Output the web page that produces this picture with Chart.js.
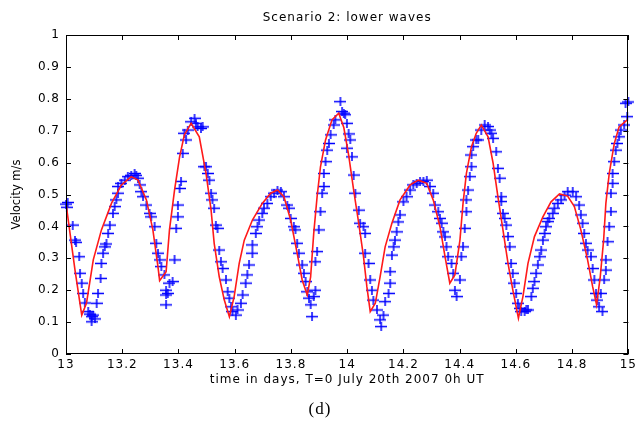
<!DOCTYPE html>
<html>
<head>
<meta charset="utf-8">
<script src="https://cdn.jsdelivr.net/npm/chart.js@4.4.1/dist/chart.umd.min.js"></script>
<style>
  html, body { margin: 0; padding: 0; background: #fff; }
  #wrap { position: relative; width: 640px; height: 430px; }
  canvas { display: block; }
</style>
</head>
<body>
<div id="wrap"><canvas id="c" width="640" height="430"></canvas></div>
<script>
// ---- data ----
const chartTitle = 'Scenario 2: lower waves';
const xTitle = 'time in days, T=0 July 20th 2007 0h UT';
const yTitle = 'Velocity m/s';
const caption = '(d)';

const xTicks = [13, 13.2, 13.4, 13.6, 13.8, 14, 14.2, 14.4, 14.6, 14.8, 15];
const xTickLabels = ['13', '13.2', '13.4', '13.6', '13.8', '14', '14.2', '14.4', '14.6', '14.8', '15'];
const yTicks = [0, 0.1, 0.2, 0.3, 0.4, 0.5, 0.6, 0.7, 0.8, 0.9, 1];
const yTickLabels = ['0', '0.1', '0.2', '0.3', '0.4', '0.5', '0.6', '0.7', '0.8', '0.9', '1'];

// model (red line)
const modelT = [13.000, 13.032, 13.056, 13.073, 13.097, 13.126, 13.162, 13.197, 13.232, 13.256, 13.286, 13.309, 13.327, 13.333, 13.356, 13.368, 13.386, 13.404, 13.421, 13.445, 13.474, 13.498, 13.516, 13.527, 13.545, 13.563, 13.581, 13.598, 13.616, 13.634, 13.663, 13.698, 13.728, 13.752, 13.775, 13.799, 13.822, 13.840, 13.858, 13.870, 13.881, 13.893, 13.905, 13.923, 13.946, 13.970, 13.988, 14.005, 14.023, 14.041, 14.058, 14.070, 14.082, 14.100, 14.117, 14.135, 14.159, 14.188, 14.224, 14.253, 14.283, 14.306, 14.330, 14.348, 14.365, 14.383, 14.401, 14.412, 14.424, 14.442, 14.459, 14.477, 14.501, 14.519, 14.536, 14.554, 14.572, 14.589, 14.609, 14.625, 14.643, 14.666, 14.696, 14.725, 14.755, 14.784, 14.808, 14.831, 14.855, 14.873, 14.887, 14.900, 14.912, 14.920, 14.932, 14.950, 14.967, 14.996];
const modelV = [0.472, 0.263, 0.122, 0.160, 0.295, 0.389, 0.473, 0.530, 0.556, 0.545, 0.483, 0.389, 0.274, 0.230, 0.258, 0.389, 0.514, 0.618, 0.687, 0.723, 0.681, 0.566, 0.451, 0.347, 0.242, 0.169, 0.117, 0.180, 0.284, 0.357, 0.420, 0.472, 0.504, 0.514, 0.493, 0.420, 0.316, 0.232, 0.185, 0.242, 0.378, 0.493, 0.587, 0.671, 0.734, 0.755, 0.710, 0.625, 0.514, 0.410, 0.305, 0.211, 0.133, 0.159, 0.242, 0.336, 0.410, 0.483, 0.530, 0.545, 0.535, 0.483, 0.399, 0.305, 0.222, 0.248, 0.357, 0.472, 0.566, 0.650, 0.692, 0.718, 0.681, 0.598, 0.493, 0.389, 0.284, 0.201, 0.112, 0.180, 0.284, 0.368, 0.430, 0.477, 0.502, 0.495, 0.462, 0.389, 0.295, 0.211, 0.154, 0.242, 0.357, 0.472, 0.566, 0.660, 0.712, 0.734];

// observations (blue +)
const obsT = [13.000, 13.003, 13.006, 13.024, 13.032, 13.036, 13.047, 13.050, 13.056, 13.061, 13.067, 13.079, 13.085, 13.091, 13.091, 13.097, 13.103, 13.109, 13.114, 13.123, 13.126, 13.132, 13.138, 13.144, 13.150, 13.156, 13.167, 13.173, 13.179, 13.185, 13.185, 13.197, 13.209, 13.220, 13.232, 13.244, 13.250, 13.256, 13.262, 13.268, 13.274, 13.286, 13.297, 13.303, 13.315, 13.321, 13.327, 13.333, 13.339, 13.350, 13.356, 13.356, 13.362, 13.368, 13.379, 13.356, 13.386, 13.392, 13.398, 13.398, 13.404, 13.409, 13.415, 13.427, 13.421, 13.433, 13.445, 13.457, 13.462, 13.468, 13.480, 13.486, 13.492, 13.498, 13.504, 13.510, 13.516, 13.521, 13.527, 13.533, 13.539, 13.545, 13.551, 13.557, 13.569, 13.575, 13.581, 13.587, 13.592, 13.604, 13.610, 13.622, 13.628, 13.639, 13.645, 13.651, 13.663, 13.663, 13.675, 13.681, 13.687, 13.698, 13.704, 13.716, 13.728, 13.740, 13.752, 13.764, 13.775, 13.787, 13.793, 13.799, 13.810, 13.816, 13.822, 13.828, 13.840, 13.846, 13.852, 13.858, 13.864, 13.870, 13.875, 13.881, 13.887, 13.887, 13.893, 13.899, 13.905, 13.911, 13.917, 13.917, 13.923, 13.929, 13.935, 13.941, 13.952, 13.958, 13.976, 13.982, 13.993, 13.988, 13.999, 14.005, 13.999, 14.011, 14.017, 14.023, 14.029, 14.041, 14.046, 14.058, 14.064, 14.064, 14.076, 14.082, 14.088, 14.093, 14.106, 14.117, 14.121, 14.129, 14.135, 14.147, 14.153, 14.153, 14.159, 14.165, 14.170, 14.176, 14.182, 14.188, 14.200, 14.211, 14.224, 14.235, 14.247, 14.259, 14.271, 14.283, 14.294, 14.306, 14.312, 14.324, 14.330, 14.336, 14.342, 14.348, 14.353, 14.359, 14.371, 14.377, 14.383, 14.389, 14.401, 14.406, 14.412, 14.418, 14.424, 14.424, 14.430, 14.436, 14.442, 14.442, 14.448, 14.459, 14.466, 14.477, 14.489, 14.501, 14.507, 14.513, 14.519, 14.530, 14.536, 14.542, 14.548, 14.548, 14.554, 14.560, 14.566, 14.572, 14.578, 14.583, 14.589, 14.595, 14.601, 14.607, 14.613, 14.619, 14.631, 14.637, 14.643, 14.655, 14.660, 14.666, 14.672, 14.678, 14.684, 14.690, 14.696, 14.702, 14.707, 14.713, 14.719, 14.731, 14.737, 14.749, 14.761, 14.773, 14.784, 14.802, 14.814, 14.825, 14.831, 14.837, 14.843, 14.849, 14.855, 14.867, 14.873, 14.879, 14.885, 14.890, 14.896, 14.908, 14.902, 14.914, 14.920, 14.920, 14.926, 14.932, 14.938, 14.938, 14.944, 14.944, 14.950, 14.955, 14.961, 14.967, 14.973, 14.985, 14.996, 14.990, 15.000];
const obsV = [0.470, 0.460, 0.475, 0.404, 0.357, 0.350, 0.305, 0.253, 0.222, 0.190, 0.160, 0.133, 0.125, 0.117, 0.101, 0.122, 0.110, 0.159, 0.190, 0.237, 0.284, 0.316, 0.336, 0.345, 0.378, 0.404, 0.441, 0.462, 0.483, 0.504, 0.525, 0.535, 0.545, 0.556, 0.560, 0.566, 0.560, 0.551, 0.530, 0.509, 0.493, 0.467, 0.441, 0.430, 0.399, 0.347, 0.316, 0.295, 0.274, 0.248, 0.200, 0.185, 0.190, 0.222, 0.227, 0.154, 0.295, 0.394, 0.430, 0.467, 0.519, 0.541, 0.629, 0.671, 0.692, 0.702, 0.728, 0.739, 0.723, 0.712, 0.707, 0.712, 0.587, 0.587, 0.566, 0.545, 0.504, 0.483, 0.457, 0.404, 0.394, 0.326, 0.289, 0.268, 0.232, 0.195, 0.175, 0.148, 0.133, 0.122, 0.138, 0.159, 0.185, 0.222, 0.248, 0.279, 0.316, 0.342, 0.378, 0.399, 0.420, 0.441, 0.457, 0.472, 0.493, 0.504, 0.514, 0.509, 0.493, 0.467, 0.457, 0.425, 0.399, 0.389, 0.347, 0.316, 0.279, 0.253, 0.227, 0.195, 0.175, 0.154, 0.117, 0.180, 0.200, 0.289, 0.321, 0.389, 0.446, 0.504, 0.525, 0.566, 0.603, 0.639, 0.660, 0.687, 0.718, 0.734, 0.791, 0.760, 0.750, 0.755, 0.723, 0.690, 0.645, 0.671, 0.618, 0.561, 0.504, 0.451, 0.410, 0.399, 0.378, 0.316, 0.284, 0.232, 0.200, 0.169, 0.138, 0.107, 0.086, 0.122, 0.164, 0.190, 0.222, 0.258, 0.310, 0.336, 0.357, 0.383, 0.414, 0.436, 0.477, 0.493, 0.514, 0.530, 0.535, 0.541, 0.541, 0.545, 0.525, 0.504, 0.467, 0.446, 0.425, 0.410, 0.383, 0.367, 0.336, 0.305, 0.284, 0.253, 0.200, 0.180, 0.232, 0.305, 0.336, 0.394, 0.446, 0.483, 0.514, 0.556, 0.587, 0.624, 0.650, 0.671, 0.671, 0.702, 0.718, 0.713, 0.702, 0.692, 0.676, 0.634, 0.582, 0.551, 0.493, 0.478, 0.441, 0.425, 0.404, 0.368, 0.336, 0.284, 0.253, 0.222, 0.190, 0.159, 0.143, 0.133, 0.133, 0.138, 0.138, 0.180, 0.206, 0.227, 0.253, 0.279, 0.305, 0.326, 0.357, 0.378, 0.399, 0.415, 0.425, 0.441, 0.457, 0.472, 0.483, 0.498, 0.509, 0.509, 0.493, 0.467, 0.436, 0.410, 0.378, 0.347, 0.326, 0.305, 0.268, 0.232, 0.190, 0.169, 0.148, 0.133, 0.190, 0.232, 0.263, 0.295, 0.352, 0.399, 0.446, 0.504, 0.535, 0.566, 0.603, 0.639, 0.660, 0.681, 0.702, 0.718, 0.744, 0.786, 0.790];

// ---- marker: blue plus (slightly wider than tall, like the reference) ----
function makePlus() {
  const c = document.createElement('canvas');
  c.width = 12; c.height = 9;
  const g = c.getContext('2d');
  g.strokeStyle = '#0000ff';
  g.lineWidth = 1.5;
  g.beginPath();
  g.moveTo(0, 4.5); g.lineTo(12, 4.5);
  g.moveTo(6, 0); g.lineTo(6, 9);
  g.stroke();
  return c;
}
const plusImg = makePlus();

// ---- plugins ----
const boxPlugin = {
  id: 'boxPlugin',
  beforeDraw(chart) {
    chart.ctx.letterSpacing = '1px';
  },
  afterDraw(chart) {
    const ctx = chart.ctx;
    const a = chart.chartArea;
    const xs = chart.scales.x, ys = chart.scales.y;
    ctx.save();
    ctx.strokeStyle = '#000';
    ctx.lineWidth = 1;
    ctx.strokeRect(Math.round(a.left) + 0.5, Math.round(a.top) + 0.5,
                   Math.round(a.right - a.left) - 1, Math.round(a.bottom - a.top) - 1);
    const tl = 5;
    ctx.beginPath();
    xs.ticks.forEach(t => {
      const px = Math.round(xs.getPixelForValue(t.value)) + 0.5;
      ctx.moveTo(px, a.bottom); ctx.lineTo(px, a.bottom - tl);
      ctx.moveTo(px, a.top); ctx.lineTo(px, a.top + tl);
    });
    ys.ticks.forEach(t => {
      const py = Math.round(ys.getPixelForValue(t.value)) + 0.5;
      ctx.moveTo(a.left, py); ctx.lineTo(a.left + tl, py);
      ctx.moveTo(a.right, py); ctx.lineTo(a.right - tl, py);
    });
    ctx.stroke();

    ctx.fillStyle = '#000';
    ctx.textAlign = 'center';
    ctx.textBaseline = 'middle';
    // main title
    ctx.letterSpacing = '1px';
    ctx.font = '12px "DejaVu Sans"';
    ctx.fillText(chartTitle, (a.left + a.right) / 2, 18);
    // y axis title
    ctx.letterSpacing = '0px';
    ctx.save();
    ctx.translate(17, (a.top + a.bottom) / 2);
    ctx.rotate(-Math.PI / 2);
    ctx.font = '11.5px "DejaVu Sans"';
    ctx.fillText(yTitle, 0, 0);
    ctx.restore();
    // caption
    ctx.letterSpacing = '1px';
    ctx.font = '17px "Liberation Serif"';
    ctx.fillText(caption, 320, 410);
    ctx.restore();
  }
};

const modelData = modelT.map((t, i) => ({ x: t, y: modelV[i] }));
const obsData = obsT.map((t, i) => ({ x: t, y: obsV[i] }));

new Chart(document.getElementById('c'), {
  type: 'scatter',
  data: {
    datasets: [
      {
        type: 'line',
        label: 'model',
        data: modelData,
        borderColor: '#ff1a1a',
        borderWidth: 1.6,
        pointRadius: 0,
        tension: 0,
        fill: false,
        order: 0
      },
      {
        type: 'scatter',
        label: 'observations',
        data: obsData,
        pointStyle: plusImg,
        pointRadius: 5,
        borderColor: '#0000ff',
        backgroundColor: '#0000ff',
        clip: false,
        order: 1
      }
    ]
  },
  options: {
    responsive: false,
    animation: false,
    events: [],
    layout: { padding: { left: 0, right: 9, top: 35, bottom: 43 } },
    plugins: {
      legend: { display: false },
      tooltip: { enabled: false },
      title: { display: false }
    },
    scales: {
      x: {
        type: 'linear',
        min: 13, max: 15,
        afterBuildTicks: s => { s.ticks = xTicks.map(v => ({ value: v })); },
        afterFit: s => { s.height = 33; },
        grid: { display: false, drawTicks: false },
        border: { display: false },
        ticks: {
          autoSkip: false, maxRotation: 0, minRotation: 0, padding: 4,
          color: '#000', font: { family: 'DejaVu Sans', size: 12 },
          callback: (v, i) => xTickLabels[i]
        },
        title: {
          display: true, text: xTitle, color: '#000',
          font: { family: 'DejaVu Sans', size: 12 },
          padding: { top: 0, bottom: 0 }
        }
      },
      y: {
        type: 'linear',
        min: 0, max: 1,
        afterBuildTicks: s => { s.ticks = yTicks.map(v => ({ value: v })); },
        afterFit: s => { s.width = 66; },
        grid: { display: false, drawTicks: false },
        border: { display: false },
        ticks: {
          autoSkip: false, padding: 6,
          color: '#000', font: { family: 'DejaVu Sans', size: 12 },
          callback: (v, i) => yTickLabels[i]
        }
      }
    }
  },
  plugins: [boxPlugin]
});
</script>
</body>
</html>
